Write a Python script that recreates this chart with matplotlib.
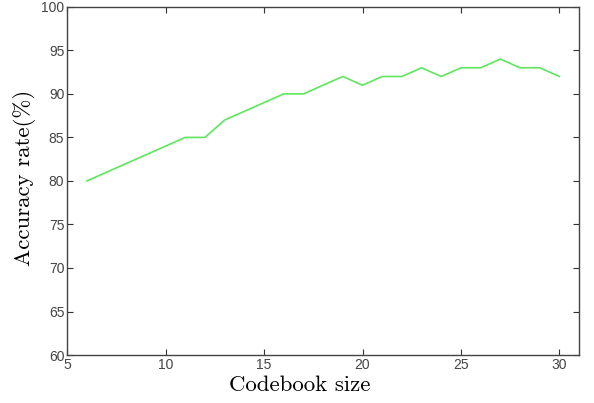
import matplotlib
matplotlib.use("Agg")
import matplotlib.pyplot as plt

# codebook size vs accuracy
codebook_size = [6, 7, 8, 9, 10, 11, 12, 13, 14, 15, 16, 17, 18, 19, 20,
                 21, 22, 23, 24, 25, 26, 27, 28, 29, 30]
accuracy = [80, 81, 82, 83, 84, 85, 85, 87, 88, 89, 90, 90, 91, 92, 91,
            92, 92, 93, 92, 93, 93, 94, 93, 93, 92]

fig = plt.figure(figsize=(5.94, 4.03), dpi=100)
ax = fig.add_axes([0.113, 0.119, 0.862, 0.864])
ax.plot(codebook_size, accuracy, color="#5ee65e", linewidth=1.2)

ax.set_xlim(5, 31)
ax.set_ylim(60, 100)
ax.set_xticks([5, 10, 15, 20, 25, 30])
ax.set_yticks(range(60, 101, 5))
ax.tick_params(direction="in", top=True, right=True, length=4, pad=2,
               labelsize=10, colors="#333333", labelcolor="#444444")
for lbl in ax.get_xticklabels() + ax.get_yticklabels():
    lbl.set_family("Liberation Sans")
for s in ax.spines.values():
    s.set_color("#444444")
    s.set_linewidth(1.0)

ax.set_xlabel("Codebook size", family="cmr10", fontsize=16.5)
ax.xaxis.set_label_coords(0.455, -0.06, transform=ax.transAxes)
ax.xaxis.label.set_va("top")
ax.set_ylabel("Accuracy rate(%)", family="cmr10", fontsize=16.5)
ax.yaxis.set_label_coords(-0.06, 0.51, transform=ax.transAxes)

fig.savefig("out.png", dpi=100)
